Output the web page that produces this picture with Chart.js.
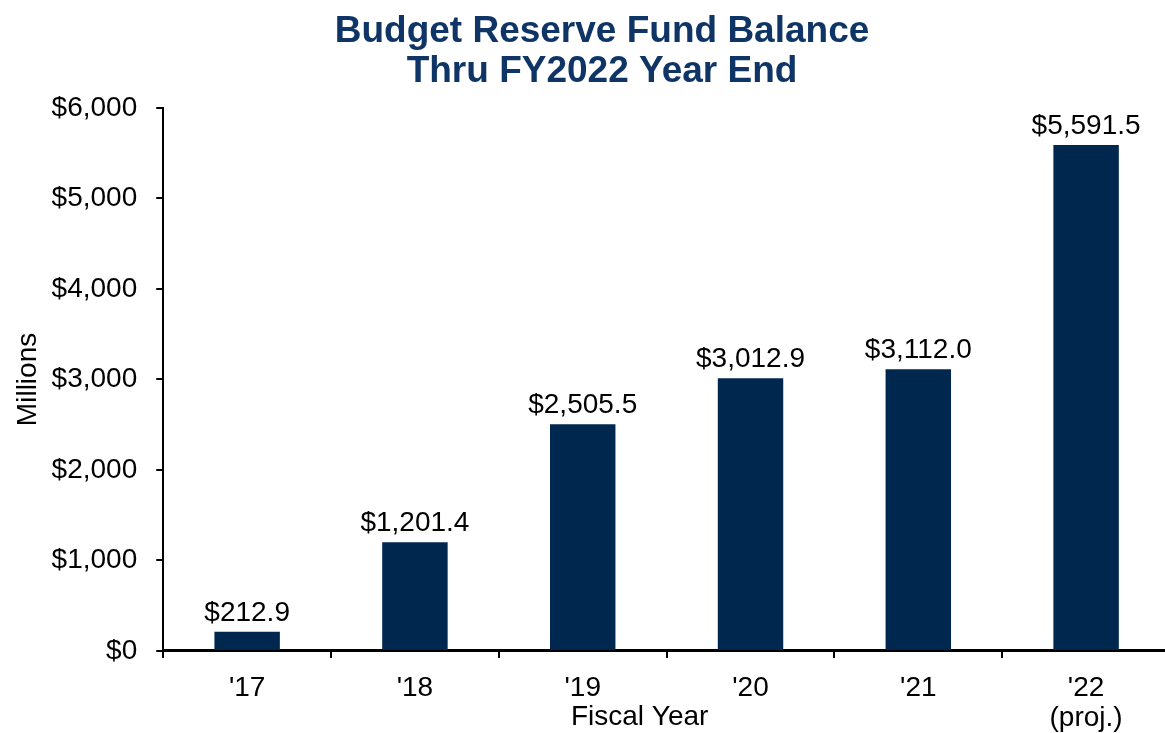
<!DOCTYPE html>
<html>
<head>
<meta charset="utf-8">
<script src="https://cdn.jsdelivr.net/npm/chart.js@4/dist/chart.umd.min.js"></script>
<style>
  html, body { margin: 0; padding: 0; background: #ffffff; overflow: hidden; }
  #wrap { position: relative; width: 1238px; height: 733px; }
</style>
</head>
<body>
<div id="wrap"><canvas id="c" width="1238" height="733"></canvas></div>
<script>
const categories = [["'17"], ["'18"], ["'19"], ["'20"], ["'21"], ["'22", "(proj.)"]];
const balances = [212.9, 1201.4, 2505.5, 3012.9, 3112.0, 5591.5];
const titleLines = ["Budget Reserve Fund Balance", "Thru FY2022 Year End"];
const xAxisTitle = "Fiscal Year";
const yAxisTitle = "Millions";
const yTickStep = 1000;
const yMax = 6000;

const FONT = "'Liberation Sans', Arial, sans-serif";
const BAR = "#00284f";
const TITLE = "#0e3566";

const valueLabels = {
  id: 'valueLabels',
  afterDatasetsDraw(chart) {
    const ctx = chart.ctx;
    const meta = chart.getDatasetMeta(0);
    ctx.save();
    ctx.font = "28px " + FONT;
    ctx.fillStyle = "#000";
    ctx.textAlign = "center";
    ctx.textBaseline = "alphabetic";
    meta.data.forEach((el, i) => {
      const v = balances[i];
      const txt = "$" + v.toLocaleString('en-US', {minimumFractionDigits: 1, maximumFractionDigits: 1});
      ctx.fillText(txt, el.x, el.y - 11);
    });
    // x axis title, slightly left of centre as in the original
    const ca = chart.chartArea;
    ctx.fillText(xAxisTitle, (ca.left + ca.right) / 2 - 27, ca.bottom + 74);
    ctx.restore();
  }
};

new Chart(document.getElementById('c'), {
  type: 'bar',
  data: {
    labels: categories,
    datasets: [{
      data: balances,
      backgroundColor: BAR,
      borderWidth: 0,
      categoryPercentage: 1.0,
      barPercentage: 0.39
    }]
  },
  options: {
    responsive: false,
    animation: false,
    devicePixelRatio: 1,
    layout: { padding: { left: 34, right: 68, top: 0, bottom: 0 } },
    plugins: {
      legend: { display: false },
      tooltip: { enabled: false },
      title: {
        display: true,
        text: titleLines,
        color: TITLE,
        font: { family: FONT, size: 37, weight: 'bold', lineHeight: 1.08 },
        padding: { top: 12, bottom: 16 }
      }
    },
    scales: {
      x: {
        afterFit: (scale) => { scale.height = 82; },
        grid: { display: true, drawOnChartArea: false, drawTicks: true, tickLength: 7, color: '#000', lineWidth: 2, offset: true },
        border: { display: true, color: '#000', width: 3 },
        ticks: { color: '#000', font: { family: FONT, size: 28, lineHeight: 1.05 }, padding: 16, maxRotation: 0, autoSkip: false },
        title: { display: false }
      },
      y: {
        min: 0,
        max: yMax,
        grid: { display: true, drawOnChartArea: false, drawTicks: true, tickLength: 7, color: '#000', lineWidth: 2 },
        border: { display: true, color: '#000', width: 2 },
        ticks: {
          stepSize: yTickStep,
          color: '#000',
          font: { family: FONT, size: 28 },
          padding: 19,
          callback: (v) => '$' + Number(v).toLocaleString('en-US')
        },
        title: { display: true, text: yAxisTitle, color: '#000', font: { family: FONT, size: 28 }, padding: { top: -23, bottom: -12 } }
      }
    }
  },
  plugins: [valueLabels]
});
</script>
</body>
</html>
